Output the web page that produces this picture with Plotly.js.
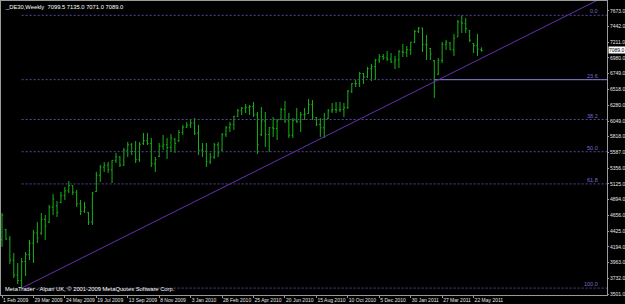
<!DOCTYPE html>
<html>
<head>
<meta charset="utf-8">
<script src="https://cdn.plot.ly/plotly-3.0.1.min.js"></script>
<style>html,body{margin:0;padding:0;background:#000;}#chart{width:625px;height:304px;}</style>
</head>
<body>
<div id="chart"></div>
<script>
// Weekly bars (week start dates)
const dates = [
'2009-02-01','2009-02-08','2009-02-15','2009-02-22','2009-03-01','2009-03-08','2009-03-15','2009-03-22','2009-03-29',
'2009-04-05','2009-04-12','2009-04-19','2009-04-26','2009-05-03','2009-05-10','2009-05-17','2009-05-24','2009-05-31',
'2009-06-07','2009-06-14','2009-06-21','2009-06-28','2009-07-05','2009-07-12','2009-07-19','2009-07-26',
'2009-08-02','2009-08-09','2009-08-16','2009-08-23','2009-08-30','2009-09-06','2009-09-13','2009-09-20','2009-09-27',
'2009-10-04','2009-10-11','2009-10-18','2009-10-25','2009-11-01','2009-11-08','2009-11-15','2009-11-22','2009-11-29',
'2009-12-06','2009-12-13','2009-12-20','2009-12-27',
'2010-01-03','2010-01-10','2010-01-17','2010-01-24','2010-01-31','2010-02-07','2010-02-14','2010-02-21','2010-02-28',
'2010-03-07','2010-03-14','2010-03-21','2010-03-28','2010-04-04','2010-04-11','2010-04-18','2010-04-25',
'2010-05-02','2010-05-09','2010-05-16','2010-05-23','2010-05-30','2010-06-06','2010-06-13','2010-06-20','2010-06-27',
'2010-07-04','2010-07-11','2010-07-18','2010-07-25','2010-08-01','2010-08-08','2010-08-15','2010-08-22','2010-08-29',
'2010-09-05','2010-09-12','2010-09-19','2010-09-26','2010-10-03','2010-10-10','2010-10-17','2010-10-24','2010-10-31',
'2010-11-07','2010-11-14','2010-11-21','2010-11-28','2010-12-05','2010-12-12','2010-12-19','2010-12-26',
'2011-01-02','2011-01-09','2011-01-16','2011-01-23','2011-01-30','2011-02-06','2011-02-13','2011-02-20','2011-02-27',
'2011-03-06','2011-03-13','2011-03-20','2011-03-27','2011-04-03','2011-04-10','2011-04-17','2011-04-24',
'2011-05-01','2011-05-08','2011-05-15','2011-05-22','2011-05-29','2011-06-05'
];
const opens = [
4300,4450,4310,4000,3780,3700,3980,4080,4250,4400,
4400,4600,4560,4780,4800,4850,4950,5020,5100,5000,
4830,4720,4700,4560,5010,5250,5370,5400,5330,5470,
5520,5400,5620,5700,5600,5480,5720,5760,5720,5420,
5530,5680,5700,5660,5780,5760,5880,5960,5990,6020,
5870,5620,5600,5450,5520,5700,5620,5850,5950,6000,
6120,6200,6240,6250,6260,6140,5850,6050,5850,5950,
5940,6080,6220,6050,5840,6060,6040,6140,6160,6290,
6100,6000,5950,6090,6200,6220,6210,6220,6250,6490,
6600,6600,6750,6700,6820,6850,6950,7000,6980,6960,
6920,6950,7070,7060,7100,7210,7370,7420,7180,7120,
6940,6740,6940,7180,7200,7100,7290,7510,7490,7380,
7190,7160,7099.5
];
const highs = [
4695,4460,4356,4105,3958,4031,4120,4297,4444,4562,
4695,4665,4812,4974,4871,5004,5078,5166,5107,5033,
4886,4857,4709,5004,5299,5402,5446,5446,5475,5579,
5534,5652,5741,5726,5755,5741,5873,5873,5800,5520,
5726,5844,5800,5858,5800,5917,5991,6035,6065,6094,
5991,5726,5726,5579,5726,5741,5873,5976,6035,6124,
6227,6256,6300,6286,6330,6183,6256,6183,5962,6109,
6080,6242,6345,6168,6094,6242,6183,6242,6374,6359,
6109,6094,6168,6227,6315,6330,6330,6315,6507,6610,
6654,6772,6757,6846,6890,6964,7037,7037,7081,7052,
7008,7096,7185,7155,7214,7391,7435,7420,7317,7126,
6949,6978,7214,7243,7214,7332,7538,7607,7568,7391,
7199,7332,7135
];
const lows = [
4194,4300,3943,3737,3648,3588,3766,4002,3958,4252,
4370,4297,4547,4665,4636,4842,4886,4989,4960,4783,
4665,4695,4518,4518,5004,5151,5299,5284,5137,5431,
5372,5387,5520,5549,5431,5446,5696,5696,5372,5299,
5520,5623,5490,5593,5579,5741,5844,5947,5947,5844,
5549,5520,5372,5416,5490,5520,5608,5814,5888,5917,
6109,6138,6168,6138,6109,5564,5829,5667,5593,5814,
5770,6065,6021,5800,5800,6021,5888,6065,6153,6065,
5976,5814,5800,6080,6168,6168,6183,6109,6227,6463,
6551,6551,6595,6684,6639,6654,6905,6949,6934,6905,
6816,6831,6993,6993,7022,7199,7347,7067,6949,6949,
6389,6728,6905,7096,7096,7008,7288,7347,7347,7214,
7052,7008,7071
];
const closes = [
4660,4310,4000,3780,3700,3980,4080,4250,4400,4330,
4600,4500,4780,4900,4700,4950,5020,5100,5000,4830,
4720,4780,4560,4990,5250,5370,5400,5330,5470,5520,
5400,5620,5700,5600,5480,5700,5760,5720,5420,5480,
5680,5700,5660,5800,5720,5880,5960,5990,6020,5870,
5620,5600,5450,5520,5700,5580,5850,5950,6000,6120,
6200,6240,6250,6260,6140,5700,6050,5850,5950,5940,
6050,6220,6050,5840,6060,6040,6140,6150,6290,6110,
6000,5950,6080,6200,6220,6210,6220,6250,6490,6600,
6600,6750,6700,6820,6850,6950,7000,6980,6960,6920,
6950,7070,7060,7100,7210,7370,7420,7180,7170,7040,
6660,6940,7180,7210,7100,7270,7510,7490,7410,7240,
7160,7110,7089
];

// Date axis tick labels
const tickDates = ['2009-02-01','2009-03-29','2009-05-24','2009-07-19','2009-09-13','2009-11-08','2010-01-03','2010-02-28',
                   '2010-04-25','2010-06-20','2010-08-15','2010-10-10','2010-12-05','2011-01-30','2011-03-27','2011-05-22'];
const tickLabels = ['1 Feb 2009','29 Mar 2009','24 May 2009','19 Jul 2009','13 Sep 2009','8 Nov 2009','3 Jan 2010','28 Feb 2010',
                    '25 Apr 2010','20 Jun 2010','15 Aug 2010','10 Oct 2010','5 Dec 2010','30 Jan 2011','27 Mar 2011','22 May 2011'];
// Price axis labels
const priceTicks = [3501,3732,3963,4194,4425,4656,4894,5125,5356,5587,5818,6049,6280,6518,6749,6980,7211,7442,7673];

// Fibonacci retracement levels
const fibLabels = ['0.0','23.6','38.2','50.0','61.8','100.0'];
const fibLevels = [7607,6659,6072,5597.5,5123,3588];
const fibStart = '2009-03-08';
const farDate = '2012-06-01';

// Trend line anchors
const trendDates = ['2009-03-08','2012-02-26'];
const trendPrices = [3588,8075];

// Horizontal line
const hlineDates = ['2011-03-13', farDate];
const hlinePrice = 6659;

const header = '_DE30,Weekly  7099.5 7135.0 7071.0 7089.0';
const lastPrice = 7089.0;

const FONT = 'Liberation Sans, Arial, sans-serif';
const fibColor = '#54489c';

const traces = [];
fibLevels.forEach(function(v){
  traces.push({type:'scatter', mode:'lines', x:[fibStart, farDate], y:[v, v],
    line:{color:fibColor, width:1, dash:'2px,2px'}, hoverinfo:'skip'});
});
traces.push({type:'scatter', mode:'lines', x:hlineDates, y:[hlinePrice, hlinePrice],
  line:{color:'#8878cc', width:1}, hoverinfo:'skip'});
traces.push({type:'scatter', mode:'lines', x:trendDates, y:trendPrices,
  line:{color:'#6632b0', width:1}, hoverinfo:'skip'});
traces.push({type:'ohlc', x:dates, open:opens, high:highs, low:lows, close:closes,
  increasing:{line:{color:'#18b018', width:1}},
  decreasing:{line:{color:'#18b018', width:1}},
  tickwidth:0.3, hoverinfo:'skip'});

const annotations = [
  {xref:'paper', yref:'paper', x:0, y:1, xanchor:'left', yanchor:'top', xshift:2, yshift:-1,
   text:header, showarrow:false, font:{family:FONT, size:5.8, color:'#ffffff'}},
  {xref:'paper', yref:'paper', x:0, y:0, xanchor:'left', yanchor:'bottom', xshift:2, yshift:1,
   text:'MetaTrader - Alpari UK, \u00a9 2001-2009 MetaQuotes Software Corp.', showarrow:false,
   font:{family:FONT, size:5.8, color:'#ffffff'}},
  {xref:'paper', yref:'y', x:1, y:lastPrice, xanchor:'left', yanchor:'middle', xshift:1,
   text:lastPrice.toFixed(1), showarrow:false, bgcolor:'#ffffff', borderpad:0,
   font:{family:FONT, size:5, color:'#000000'}}
];
fibLabels.forEach(function(t, i){
  annotations.push({xref:'paper', yref:'y', x:1, y:fibLevels[i], xanchor:'right', yanchor:'bottom',
    xshift:-7, yshift:-1, text:t, showarrow:false, font:{family:FONT, size:5.5, color:'#7a6cd0'}});
});

const layout = {
  width:625, height:304,
  margin:{l:1, r:18, t:1, b:9, pad:0},
  paper_bgcolor:'#000000', plot_bgcolor:'#000000',
  showlegend:false,
  xaxis:{type:'date', range:['2009-01-30 05:17','2012-01-14 14:24'],
    showgrid:false, zeroline:false, showline:true, linecolor:'#9a9a9a', linewidth:1, mirror:true,
    ticks:'outside', ticklen:2, tickcolor:'#9a9a9a',
    tickmode:'array', tickvals:tickDates, ticktext:tickLabels, ticklabelposition:'outside right',
    tickangle:0, ticklabelstandoff:0,
    tickfont:{family:FONT, size:5, color:'#e6e6e6'},
    rangeslider:{visible:false}, automargin:false, fixedrange:true},
  yaxis:{side:'right', range:[3486.3, 7818],
    showgrid:false, zeroline:false, showline:true, linecolor:'#9a9a9a', linewidth:1, mirror:true,
    ticks:'outside', ticklen:1, tickcolor:'#9a9a9a', ticklabelstandoff:0,
    tickmode:'array', tickvals:priceTicks, ticktext:priceTicks.map(function(v){return v.toFixed(1);}),
    tickfont:{family:FONT, size:5, color:'#e6e6e6'}, automargin:false, fixedrange:true},
  annotations:annotations
};

Plotly.newPlot('chart', traces, layout, {staticPlot:true, displayModeBar:false});
</script>
</body>
</html>
